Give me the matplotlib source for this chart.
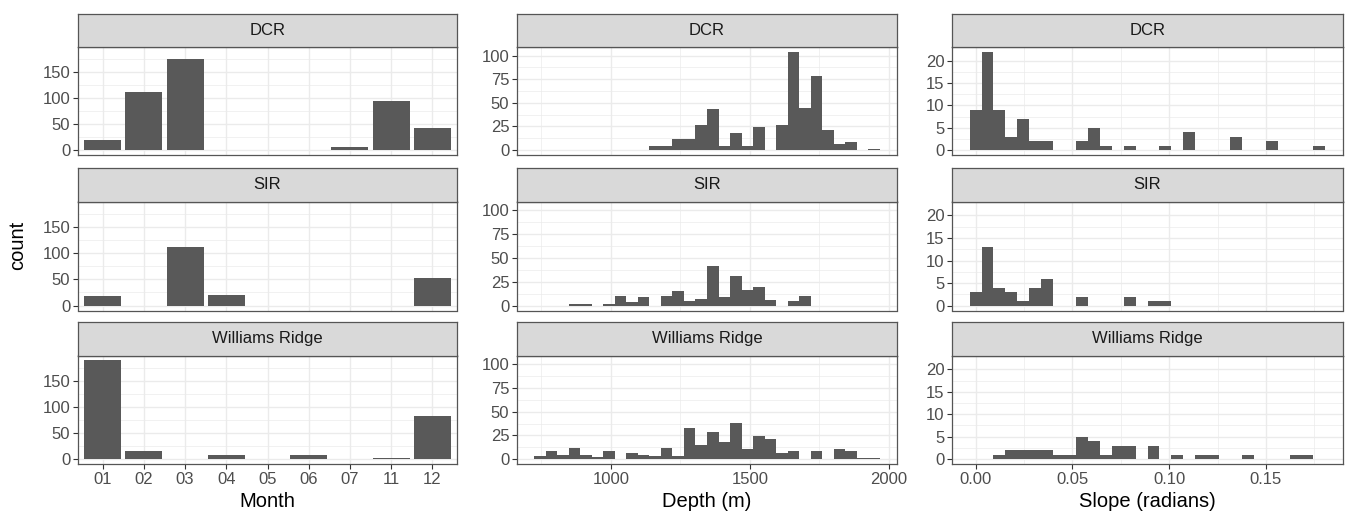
import numpy as np
import matplotlib
matplotlib.use("Agg")
import matplotlib.pyplot as plt
from matplotlib.ticker import FixedLocator

plt.rcParams["font.family"] = ["Liberation Sans", "DejaVu Sans"]

sites = ["DCR", "SIR", "Williams Ridge"]

# Monthly counts per site
months = ["01", "02", "03", "04", "05", "06", "07", "11", "12"]
month_dcr = [19, 111, 175, 0, 0, 0, 5, 94, 42]
month_sir = [18, 0, 112, 20, 0, 0, 0, 0, 53]
month_wr = [189, 16, 0, 8, 0, 8, 0, 2, 83]

# Depth histogram (30 bins, centres spanning the data range)
depth_range = (744.9, 1947.0)
depth_dcr = [0, 0, 0, 0, 0, 0, 0, 0, 0, 0, 4, 4, 12, 12, 27, 43, 4, 18, 4, 24,
             0, 27, 104, 45, 78, 21, 6, 9, 0, 1]
depth_sir = [0, 0, 0, 2, 2, 0, 2, 10, 4, 9, 0, 10, 15, 5, 7, 41, 9, 31, 16, 19,
             6, 0, 5, 10, 0, 0, 0, 0, 0, 0]
depth_wr = [3, 9, 4, 12, 4, 2, 8, 0, 6, 4, 3, 12, 3, 33, 15, 29, 18, 38, 11, 24,
            21, 6, 8, 0, 9, 0, 11, 8, 1, 1]

# Slope histogram (30 bins)
slope_range = (0.0, 0.1776)
slope_dcr = [9, 22, 9, 3, 7, 2, 2, 0, 0, 2, 5, 1, 0, 1, 0, 0, 1, 0, 4, 0,
             0, 0, 3, 0, 0, 2, 0, 0, 0, 1]
slope_sir = [3, 13, 4, 3, 1, 4, 6, 0, 0, 2, 0, 0, 0, 2, 0, 1, 1, 0, 0, 0,
             0, 0, 0, 0, 0, 0, 0, 0, 0, 0]
slope_wr = [0, 0, 1, 2, 2, 2, 2, 1, 1, 5, 4, 1, 3, 3, 0, 3, 0, 1, 0, 1,
            1, 0, 0, 1, 0, 0, 0, 1, 1, 0]

BAR = "#595959"
GRID = "#EBEBEB"
BORDER = "#555555"
TICK = "#333333"
STRIP = "#D9D9D9"
TICK_TXT = "#4D4D4D"

W, H = 1347, 519
fig = plt.figure(figsize=(W / 100, H / 100), dpi=100)


def px_axes(x0, x1, y0, y1):
    return fig.add_axes([x0 / W, 1 - y1 / H, (x1 - x0) / W, (y1 - y0) / H])


cols = [(78, 457), (517, 897), (952, 1343)]
rows = [(47, 155), (201.5, 310.5), (355.5, 464)]
strip_h = 33.5


def style_panel(ax, show_x):
    ax.set_facecolor("white")
    for s in ax.spines.values():
        s.set_color(BORDER)
        s.set_linewidth(0.9)
    ax.grid(True, which="major", color=GRID, linewidth=1.0, zorder=0)
    ax.grid(True, which="minor", color=GRID, linewidth=0.5, zorder=0)
    ax.set_axisbelow(True)
    ax.tick_params(which="major", length=3.5, width=0.8, color=TICK,
                   labelsize=12, labelcolor=TICK_TXT, pad=2)
    ax.tick_params(which="minor", length=0)
    if not show_x:
        ax.tick_params(axis="x", which="both", labelbottom=False, length=0)


def add_strip(x0, x1, top, label):
    sax = px_axes(x0, x1, top - strip_h, top)
    sax.set_facecolor(STRIP)
    sax.set_xticks([])
    sax.set_yticks([])
    for s in sax.spines.values():
        s.set_color(BORDER)
        s.set_linewidth(0.9)
    sax.text(0.5, 0.5, label, ha="center", va="center", fontsize=12,
             color="#1A1A1A", transform=sax.transAxes)


def hist_centres(rng, n):
    return np.linspace(rng[0], rng[1], n)


# Column 1: months
month_data = [month_dcr, month_sir, month_wr]
x_pos = np.arange(1, len(months) + 1)
for r, (site, vals) in enumerate(zip(sites, month_data)):
    x0, x1 = cols[0]
    y0, y1 = rows[r]
    ax = px_axes(x0, x1, y0, y1)
    ax.bar(x_pos, vals, width=0.9, color=BAR, linewidth=0, zorder=2)
    ax.set_xlim(0.4, len(months) + 0.6)
    ymax = max(max(v) for v in month_data)
    ax.set_ylim(-0.05 * ymax, 1.05 * ymax)
    ax.set_xticks(x_pos)
    ax.set_xticklabels(months)
    ax.yaxis.set_major_locator(FixedLocator([0, 50, 100, 150]))
    ax.yaxis.set_minor_locator(FixedLocator([25, 75, 125, 175]))
    ax.xaxis.set_minor_locator(FixedLocator([]))
    style_panel(ax, r == 2)
    add_strip(x0, x1, y0, site)
    if r == 2:
        ax.set_xlabel("Month", fontsize=14.5, labelpad=4)

# Column 2: depth
depth_data = [depth_dcr, depth_sir, depth_wr]
dc = hist_centres(depth_range, len(depth_dcr))
dbw = dc[1] - dc[0]
for r, (site, vals) in enumerate(zip(sites, depth_data)):
    x0, x1 = cols[1]
    y0, y1 = rows[r]
    ax = px_axes(x0, x1, y0, y1)
    ax.bar(dc, vals, width=dbw, color=BAR, linewidth=0, zorder=2)
    lo, hi = dc[0] - dbw / 2, dc[-1] + dbw / 2
    span = hi - lo
    ax.set_xlim(lo - 0.05 * span, hi + 0.05 * span)
    ymax = max(max(v) for v in depth_data)
    ax.set_ylim(-0.05 * ymax, 1.05 * ymax)
    ax.xaxis.set_major_locator(FixedLocator([1000, 1500, 2000]))
    ax.xaxis.set_minor_locator(FixedLocator([750, 1250, 1750]))
    ax.yaxis.set_major_locator(FixedLocator([0, 25, 50, 75, 100]))
    ax.yaxis.set_minor_locator(FixedLocator([12.5, 37.5, 62.5, 87.5]))
    style_panel(ax, r == 2)
    add_strip(x0, x1, y0, site)
    if r == 2:
        ax.set_xlabel("Depth (m)", fontsize=14.5, labelpad=4)

# Column 3: slope
slope_data = [slope_dcr, slope_sir, slope_wr]
sc = hist_centres(slope_range, len(slope_dcr))
sbw = sc[1] - sc[0]
for r, (site, vals) in enumerate(zip(sites, slope_data)):
    x0, x1 = cols[2]
    y0, y1 = rows[r]
    ax = px_axes(x0, x1, y0, y1)
    ax.bar(sc, vals, width=sbw, color=BAR, linewidth=0, zorder=2)
    lo, hi = sc[0] - sbw / 2, sc[-1] + sbw / 2
    span = hi - lo
    ax.set_xlim(lo - 0.05 * span, hi + 0.05 * span)
    ymax = max(max(v) for v in slope_data)
    ax.set_ylim(-0.05 * ymax, 1.05 * ymax)
    ax.xaxis.set_major_locator(FixedLocator([0.0, 0.05, 0.10, 0.15]))
    ax.xaxis.set_minor_locator(FixedLocator([0.025, 0.075, 0.125, 0.175]))
    ax.set_xticklabels(["0.00", "0.05", "0.10", "0.15"])
    ax.yaxis.set_major_locator(FixedLocator([0, 5, 10, 15, 20]))
    ax.yaxis.set_minor_locator(FixedLocator([2.5, 7.5, 12.5, 17.5]))
    style_panel(ax, r == 2)
    add_strip(x0, x1, y0, site)
    if r == 2:
        ax.set_xlabel("Slope (radians)", fontsize=14.5, labelpad=4)

fig.text(18 / W, 1 - 245 / H, "count", rotation=90, ha="center", va="center",
         fontsize=14.5)

fig.savefig("out.png", dpi=100, facecolor="white")
